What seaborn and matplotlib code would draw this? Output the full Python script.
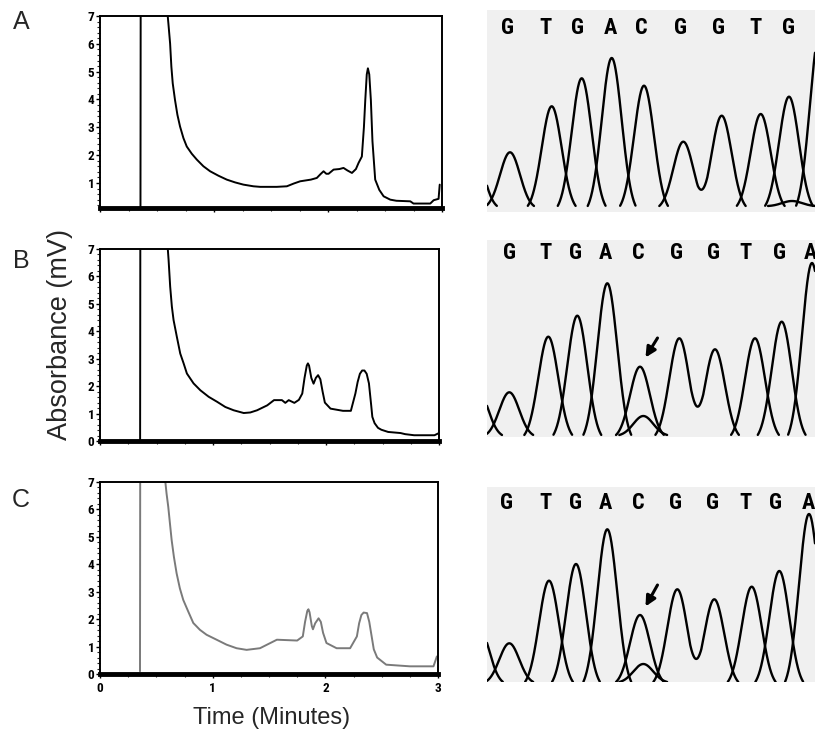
import numpy as np
import pandas as pd
import matplotlib
matplotlib.use("Agg")
import matplotlib.pyplot as plt
import seaborn as sns
from matplotlib.ticker import MultipleLocator

# HPLC chromatograms (time in minutes, absorbance in mV)

time_a = [0.30, 0.355, 0.357, 0.59, 0.594, 0.600, 0.615, 0.626, 0.638, 0.658, 0.679, 0.702,
          0.732, 0.761, 0.805, 0.849, 0.907, 0.966, 1.039, 1.112, 1.185, 1.258, 1.346,
          1.405, 1.55, 1.639, 1.70, 1.756, 1.85, 1.902, 1.935, 1.961, 1.985,
          2.005, 2.049, 2.10, 2.136, 2.17, 2.21, 2.245, 2.268, 2.297, 2.315, 2.327, 2.34,
          2.35, 2.362, 2.376, 2.39, 2.414, 2.45, 2.488, 2.546, 2.60, 2.722, 2.75, 2.897,
          2.927, 2.97, 2.98]
abs_a = [0.1, 0.1, 8.0, 8.0, 7.0, 6.73, 6.01, 5.18, 4.58, 3.98, 3.45, 3.03,
         2.61, 2.31, 2.05, 1.84, 1.60, 1.42, 1.26, 1.12, 1.02, 0.94, 0.88,
         0.86, 0.86, 0.88, 0.98, 1.06, 1.12, 1.18, 1.32, 1.42, 1.33,
         1.33, 1.48, 1.50, 1.54, 1.45, 1.36, 1.50, 1.72, 1.95, 3.0, 3.98, 4.9,
         5.12, 4.9, 3.98, 2.5, 1.12, 0.75, 0.52, 0.40, 0.36, 0.34, 0.26, 0.26,
         0.38, 0.43, 0.94]

time_b = [0.30, 0.355, 0.357, 0.598, 0.60, 0.607, 0.621, 0.636, 0.651, 0.680, 0.710, 0.740,
          0.769, 0.828, 0.888, 0.962, 1.036, 1.109, 1.183, 1.272, 1.33, 1.39, 1.48, 1.54,
          1.61, 1.64, 1.67, 1.72, 1.76, 1.79, 1.81, 1.83, 1.84, 1.85, 1.87, 1.89,
          1.91, 1.93, 1.95, 1.97, 1.99, 2.04, 2.15, 2.22, 2.26, 2.28, 2.30, 2.32,
          2.34, 2.36, 2.38, 2.40, 2.41, 2.43, 2.46, 2.49, 2.55, 2.66, 2.70, 2.78,
          2.96, 3.0]
abs_b = [0.0, 0.0, 8.0, 8.0, 7.0, 6.60, 5.63, 4.90, 4.41, 3.80, 3.19, 2.83,
         2.46, 2.10, 1.85, 1.61, 1.43, 1.24, 1.12, 1.02, 1.04, 1.12, 1.30, 1.49,
         1.49, 1.39, 1.49, 1.39, 1.50, 1.73, 2.3, 2.75, 2.83, 2.75, 2.3, 2.09,
         2.3, 2.40, 2.25, 1.8, 1.4, 1.18, 1.10, 1.10, 1.73, 2.15, 2.45, 2.57,
         2.57, 2.45, 2.1, 1.3, 0.88, 0.65, 0.48, 0.41, 0.33, 0.29, 0.25, 0.21,
         0.21, 0.29]

time_c = [0.355, 0.357, 0.578, 0.58, 0.591, 0.606, 0.621, 0.636, 0.656, 0.680, 0.709, 0.739,
          0.783, 0.828, 0.887, 0.946, 1.035, 1.123, 1.212, 1.301, 1.42, 1.57, 1.75,
          1.80, 1.82, 1.84, 1.85, 1.86, 1.88, 1.89, 1.91, 1.94, 1.96, 1.98, 2.01,
          2.10, 2.22, 2.28, 2.30, 2.32, 2.34, 2.37, 2.39, 2.41, 2.43, 2.46, 2.54,
          2.75, 2.96, 2.99]
abs_c = [0.1, 8.0, 8.0, 7.0, 6.57, 6.09, 5.48, 4.88, 4.27, 3.67, 3.12, 2.70,
         2.28, 1.86, 1.61, 1.43, 1.25, 1.07, 0.94, 0.88, 0.94, 1.25, 1.22,
         1.37, 1.9, 2.3, 2.36, 2.25, 1.75, 1.63, 1.85, 2.03, 1.9, 1.5, 1.13,
         0.94, 0.94, 1.37, 1.85, 2.15, 2.24, 2.22, 1.9, 1.4, 0.9, 0.6, 0.34,
         0.28, 0.28, 0.64]

# Sequencing traces: base channel, peak position, peak height

seq_a_base = ["N", "G", "T", "G", "A", "C", "G", "G", "T", "G", "A", "C"]
seq_a_pos = [-14, 23, 64.7, 94.7, 124.7, 157, 196.3, 234.7, 273.7, 302, 333, 305]
seq_a_height = [60, 53.7, 99.7, 127.7, 148, 120.3, 64.3, 90.3, 92, 109.3, 175, 5]

seq_b_base = ["N", "G", "T", "G", "A", "C", "T", "G", "G", "T", "G", "A"]
seq_b_pos = [-9, 22.3, 61.3, 90.3, 120.3, 153, 156.3, 192.3, 228, 268, 294.7, 325]
seq_b_height = [45, 42.7, 98.3, 119.3, 151.7, 68.3, 19, 96.7, 85.7, 96.7, 113.3, 172]

seq_c_base = ["N", "G", "T", "G", "A", "C", "T", "G", "G", "T", "G", "A"]
seq_c_pos = [-8, 22.3, 62, 89, 120.3, 153, 156.3, 190.3, 227.3, 264.7, 292.3, 322]
seq_c_height = [55, 38.7, 101.3, 118, 152.7, 67, 18, 92.7, 82.7, 95.3, 111, 168]

calls_a = list("GTGACGGTG")
calls_a_pos = [20.7, 59, 90.3, 123, 154.7, 193.7, 231.3, 268, 301.3]
calls_bc = list("GTGACGGTGA")
calls_b_pos = [22.3, 59, 88, 118, 151.3, 189.7, 226.3, 259, 293, 323]
calls_c_pos = [19.7, 58, 88, 118, 151.3, 189, 225.7, 259, 289, 321.3]

# arrow (tail, head) pointing at the mixed C peak
arrow_b = [(170.5, 97), (158.5, 77.5)]
arrow_c = [(170.5, 97), (158.5, 75.5)]

sns.set_theme(style="ticks")
plt.rcParams["font.family"] = ["Liberation Sans", "DejaVu Sans"]

W, H = 815, 732
fig = plt.figure(figsize=(W / 100, H / 100), dpi=100)


def box(l, t, r, b):
    return [l / W, 1 - b / H, (r - l) / W, (b - t) / H]


narrow = ["Liberation Sans Narrow", "Roboto Condensed", "DejaVu Sans"]

# Left: chromatograms

chroms = [
    (time_a, abs_a, box(100, 16, 442, 208), 0.1, "black", False),
    (time_b, abs_b, box(100, 249, 439, 441), 0.0, "black", False),
    (time_c, abs_c, box(100, 482, 438, 674), 0.0, "#7a7a7a", True),
]

for t, a, rect, ymin, col, show_x in chroms:
    ax = fig.add_axes(rect)
    df = pd.DataFrame({"time": t, "absorbance": a})
    sns.lineplot(data=df, x="time", y="absorbance", ax=ax, color=col,
                 lw=1.4, sort=False, estimator=None)
    ax.set_xlim(0, 3)
    ax.set_ylim(ymin, 7)
    ax.set_xticks([0, 1, 2, 3])
    ax.xaxis.set_minor_locator(MultipleLocator(0.25))
    ax.set_yticks(range(0 if ymin == 0 else 1, 8))
    ax.yaxis.set_minor_locator(MultipleLocator(0.2))
    ax.tick_params(which="major", direction="out", length=3, width=1,
                   pad=1, labelsize=9.5, colors="black")
    ax.tick_params(which="minor", direction="out", length=2, width=0.8)
    if not show_x:
        ax.set_xticklabels([])
    ax.tick_params(axis="x", pad=3)
    for lab in ax.get_xticklabels() + ax.get_yticklabels():
        lab.set_fontweight("bold")
        lab.set_family(narrow)
    ax.set_xlabel("")
    ax.set_ylabel("")
    for side in ["top", "right", "left"]:
        ax.spines[side].set_linewidth(1.4)
        ax.spines[side].set_color("black")
    ax.spines["bottom"].set_linewidth(3.5)
    ax.spines["bottom"].set_color("black")

# Right: sequencing traces

traces = [
    (seq_a_base, seq_a_pos, seq_a_height, calls_a, calls_a_pos,
     box(487, 10, 815, 212), (-6, 196), 178, None),
    (seq_b_base, seq_b_pos, seq_b_height, calls_bc, calls_b_pos,
     box(487, 240, 815, 437), (-2, 195), 182, arrow_b),
    (seq_c_base, seq_c_pos, seq_c_height, calls_bc, calls_c_pos,
     box(487, 487, 815, 682), (0, 195), 179, arrow_c),
]

sigma = 10.0
cut = np.exp(-0.5 * 2.4 ** 2)
x = np.linspace(0, 328, 1600)
for bases, pos, hgt, calls, calls_pos, rect, ylim, call_y, arrow in traces:
    ax = fig.add_axes(rect)
    ax.set_facecolor("#f0f0f0")
    for s in ax.spines.values():
        s.set_visible(False)
    ax.set_xticks([])
    ax.set_yticks([])
    ax.set_xlim(0, 328)
    ax.set_ylim(*ylim)
    peaks = pd.DataFrame({"base": bases, "pos": pos, "height": hgt})
    for base, grp in peaks.groupby("base"):
        y = np.zeros_like(x)
        for p, h in zip(grp["pos"], grp["height"]):
            g = np.exp(-0.5 * ((x - p) / sigma) ** 2)
            y += h * np.clip(g - cut, 0, None) / (1 - cut)
        y[y <= 0] = np.nan
        ax.plot(x, y, color="black", lw=1.7, solid_capstyle="round",
                solid_joinstyle="round")
    for letter, p in zip(calls, calls_pos):
        ax.text(p, call_y, letter, ha="center", va="center", fontsize=16,
                fontweight="bold", family=narrow, color="black")
    if arrow is not None:
        ax.annotate("", xy=arrow[1], xytext=arrow[0],
                    arrowprops=dict(arrowstyle="-|>", lw=2.2, color="black",
                                    mutation_scale=15, shrinkA=0, shrinkB=0))

# Labels

for letter, y in zip(["A", "B", "C"], [22, 261, 500]):
    fig.text(21 / W, 1 - y / H, letter, fontsize=18, ha="center", va="center")

fig.text(60 / W, 1 - 335 / H, "Absorbance (mV)", rotation=90, fontsize=19.5,
         ha="center", va="center")
fig.text(272 / W, 1 - 718 / H, "Time (Minutes)", fontsize=17,
         ha="center", va="center")

fig.savefig("out.png", dpi=100)
